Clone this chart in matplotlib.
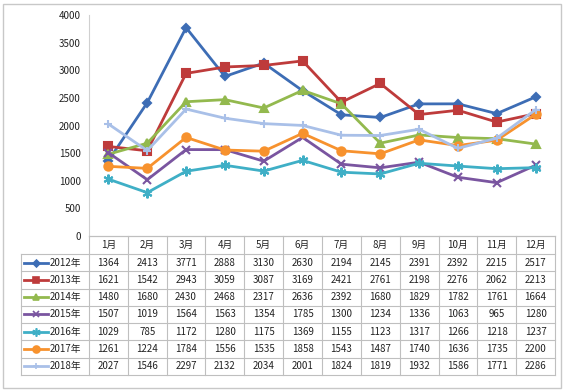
import matplotlib
matplotlib.use("Agg")
import matplotlib.pyplot as plt
from matplotlib.patches import Rectangle

plt.rcParams['font.family'] = ['Noto Sans CJK SC', 'DejaVu Sans']

months = ['1月', '2月', '3月', '4月', '5月', '6月', '7月', '8月', '9月', '10月', '11月', '12月']
years = ['2012年', '2013年', '2014年', '2015年', '2016年', '2017年', '2018年']

v2012 = [1364, 2413, 3771, 2888, 3130, 2630, 2194, 2145, 2391, 2392, 2215, 2517]
v2013 = [1621, 1542, 2943, 3059, 3087, 3169, 2421, 2761, 2198, 2276, 2062, 2213]
v2014 = [1480, 1680, 2430, 2468, 2317, 2636, 2392, 1680, 1829, 1782, 1761, 1664]
v2015 = [1507, 1019, 1564, 1563, 1354, 1785, 1300, 1234, 1336, 1063, 965, 1280]
v2016 = [1029, 785, 1172, 1280, 1175, 1369, 1155, 1123, 1317, 1266, 1218, 1237]
v2017 = [1261, 1224, 1784, 1556, 1535, 1858, 1543, 1487, 1740, 1636, 1735, 2200]
v2018 = [2027, 1546, 2297, 2132, 2034, 2001, 1824, 1819, 1932, 1586, 1771, 2286]
series = [v2012, v2013, v2014, v2015, v2016, v2017, v2018]

colors = ['#3D6DB5', '#BE3B3B', '#93B94E', '#7A55A0', '#3FAFC6', '#F7922E', '#A9C0E8']
markers = ['D', 's', '^', 'x', (6, 2, 0), 'o', '+']
msizes = [4.5, 6, 6, 6, 7, 6, 6]

W, H = 567, 391
fig = plt.figure(figsize=(W / 100, H / 100), dpi=100)
fig.patches.append(Rectangle((3 / W, 3 / H), 558 / W, 384 / H, transform=fig.transFigure,
                             fill=False, edgecolor='#C8C8C8', lw=1))

left, right = 89 / W, 555 / W
ax = fig.add_axes([left, 1 - 236 / H, right - left, 221 / H])
x = list(range(len(months)))
for vals, c, m, ms in zip(series, colors, markers, msizes):
    ax.plot(x, vals, color=c, lw=2, marker=m, markersize=ms, markeredgecolor=c,
            markeredgewidth=1.5, zorder=3)
ax.set_xlim(-0.5, 11.5)
ax.set_ylim(0, 4000)
ax.set_yticks(range(0, 4001, 500))
ax.tick_params(axis='y', length=0, labelsize=7, pad=6, colors='#222222')
ax.set_xticks([])
for s in ['top', 'right']:
    ax.spines[s].set_visible(False)
ax.spines['left'].set_color('#D0D0D0')
ax.spines['bottom'].set_color('#BFBFBF')

# data table below the plot
tb = fig.add_axes([left, 1 - 375 / H, right - left, 139 / H])
tb.set_xlim(-0.5, 11.5)
nrows = len(years)
hh = 18 / 17.3
tb.set_ylim(nrows, -hh)
tb.axis('off')
gc = '#BFBFBF'
for i, mname in enumerate(months):
    tb.text(i, -hh / 2, mname, ha='center', va='center', fontsize=7, color='#222222')
tb.plot([-0.5, 11.5], [-hh, -hh], color=gc, lw=0.8, clip_on=False)
unit = 466 / 12
lx0 = -0.5 - 68 / unit
for r in range(nrows + 1):
    tb.plot([lx0, 11.5], [r, r], color=gc, lw=0.8, clip_on=False)
for i in range(13):
    tb.plot([i - 0.5, i - 0.5], [-hh, nrows], color=gc, lw=0.8, clip_on=False)
tb.plot([lx0, lx0], [0, nrows], color=gc, lw=0.8, clip_on=False)
for r, (yl, vals, c, m, ms) in enumerate(zip(years, series, colors, markers, msizes)):
    yc = r + 0.5
    tb.plot([lx0 + 3 / unit, lx0 + 27 / unit], [yc, yc], color=c, lw=2, clip_on=False)
    tb.plot([lx0 + 15 / unit], [yc], color=c, marker=m, markersize=ms - 1,
            markeredgecolor=c, markeredgewidth=1.2, clip_on=False)
    tb.text(lx0 + 29 / unit, yc, yl, ha='left', va='center', fontsize=7, color='#222222')
    for i, v in enumerate(vals):
        tb.text(i, yc, str(v), ha='center', va='center', fontsize=7, color='#222222')

fig.savefig('out.png', dpi=100)
